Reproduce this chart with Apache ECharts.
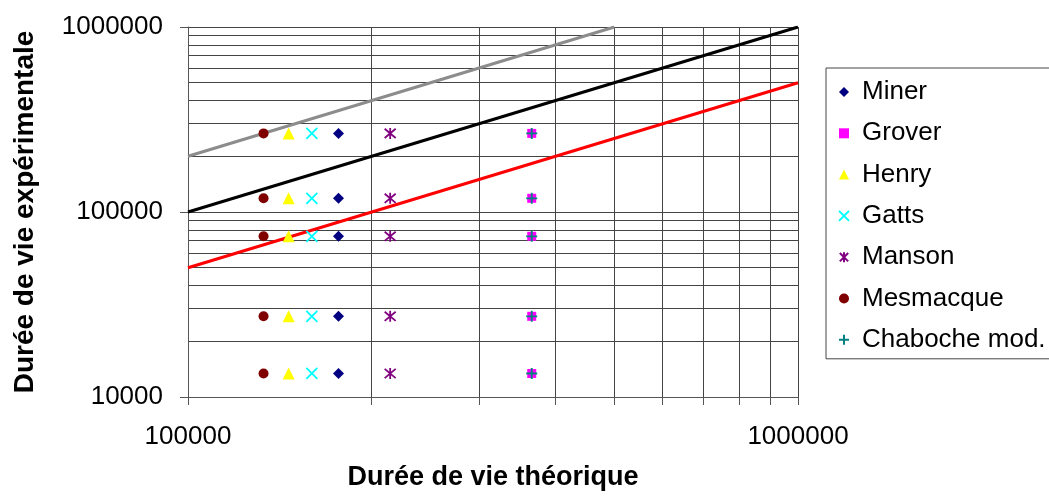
<!DOCTYPE html>
<html><head><meta charset="utf-8">
<script src="https://cdn.jsdelivr.net/npm/echarts@6/dist/echarts.min.js"></script>
<style>html,body{margin:0;padding:0;background:#fff}#c{width:1049px;height:497px}</style>
</head><body><div id="c"></div>
<script>
// ---- data ----
const xTicks = [100000,200000,300000,400000,500000,600000,700000,800000,900000,1000000];
const xLabels = [100000,1000000];
const yTicks = [10000,20000,30000,40000,50000,60000,70000,80000,90000,100000,200000,300000,400000,500000,600000,700000,800000,900000,1000000];
const yLabels = [10000,100000,1000000];
const models = ['Miner','Grover','Henry','Gatts','Manson','Mesmacque','Chaboche mod.'];
const theoLife = [176500,366000,146200,159600,214500,133000,366000];
const expLife = [266000,118600,73900,27300,13400];
const lineUpper = [[100000,200000],[500000,1000000]];
const lineEqual = [[100000,100000],[1000000,1000000]];
const lineLower = [[100000,50000],[1000000,500000]];

// ---- styles ----
const colors = ['#000080','#FF00FF','#FFFF00','#00FFFF','#800080','#800000','#008080'];
const symbols = ['diamond','rect','triangle','path://M0,0L10,10M10,0L0,10','path://M0,0L10,10M10,0L0,10M5,-1L5,11','circle','path://M5,0L5,10M0,5L10,5'];
const sizes = [11,9,12,11,11,10,11];
const stroked = [false,false,false,true,true,false,true];
const FONT = 'Liberation Sans, Arial, sans-serif';

const chart = echarts.init(document.getElementById('c'), null, {renderer:'canvas'});
const fmt = v => String(Math.round(v));

const refLine = (data, color) => ({
  type:'line', data, xAxisIndex:0, yAxisIndex:0, showSymbol:false, symbol:'none', silent:true,
  lineStyle:{color, width:3}, z:2
});

const scatters = models.map((name,i) => ({
  name, type:'scatter', xAxisIndex:0, yAxisIndex:0,
  data: expLife.map(y => [theoLife[i], y]),
  symbol: symbols[i], symbolSize: sizes[i],
  itemStyle: stroked[i] ? {color: colors[i], borderColor: colors[i], borderWidth: 1.8, opacity:1}
                        : {color: colors[i], opacity:1},
  z:3
}));

chart.setOption({
  animation:false,
  backgroundColor:'#fff',
  textStyle:{fontFamily:FONT},
  grid:{left:188, right:251, top:27, bottom:100, containLabel:false},
  legend:{
    orient:'vertical', left:826, top:68,
    data: models,
    itemWidth:10, itemHeight:10, itemGap:15.3, itemTextGap:14,
    padding:[11,10,6,12],
    borderColor:'#444', borderWidth:1,
    textStyle:{fontFamily:FONT, fontSize:26, color:'#000', padding:[0,0,0,8]}
  },
  xAxis:{
    type:'log', logBase:10, min:100000, max:1000000,
    name:'Durée de vie théorique', nameLocation:'middle', nameGap:67,
    nameTextStyle:{fontFamily:FONT, fontSize:27, fontWeight:'bold', color:'#000'},
    axisLine:{show:true, lineStyle:{color:'#555', width:1}},
    axisTick:{show:true, length:8, inside:false, customValues:xTicks, lineStyle:{color:'#555'}},
    axisLabel:{customValues:xLabels, formatter:fmt, margin:27, fontSize:26, color:'#000', fontFamily:FONT},
    splitLine:{show:true, lineStyle:{color:'#444', width:1}}
  },
  yAxis:[{
    type:'log', logBase:10, min:10000, max:1000000,
    name:'Durée de vie expérimentale', nameLocation:'middle', nameGap:149, nameRotate:90,
    nameTextStyle:{fontFamily:FONT, fontSize:28, fontWeight:'bold', color:'#000'},
    axisLine:{show:true, lineStyle:{color:'#555', width:1}},
    axisTick:{show:true, length:8, inside:false, customValues:yLabels, lineStyle:{color:'#555'}},
    axisLabel:{customValues:yLabels, formatter:fmt, margin:25, fontSize:26, color:'#000', fontFamily:FONT},
    splitLine:{show:false}
  },{
    type:'log', logBase:10, min:10000, max:1000000, position:'left', offset:0,
    axisLine:{show:false}, axisLabel:{show:false},
    axisTick:{show:false, customValues:yTicks},
    splitLine:{show:true, lineStyle:{color:'#444', width:1}}
  }],
  series:[
    refLine(lineUpper,'#8c8c8c'),
    refLine(lineEqual,'#000000'),
    refLine(lineLower,'#ff0000'),
    ...scatters
  ]
});
</script></body></html>
